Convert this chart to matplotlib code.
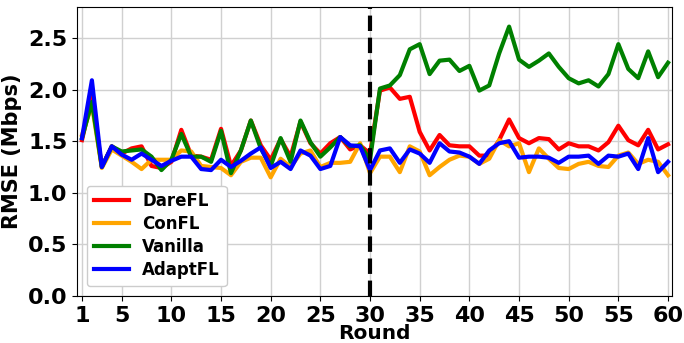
import numpy as np
import matplotlib.pyplot as plt

rounds = np.arange(1, 61)

dare_fl = [1.51, 1.93, 1.25, 1.45, 1.38, 1.43, 1.45, 1.26, 1.24, 1.30,
           1.61, 1.36, 1.35, 1.32, 1.62, 1.26, 1.41, 1.70, 1.46, 1.32,
           1.52, 1.35, 1.69, 1.48, 1.38, 1.48, 1.54, 1.42, 1.46, 1.38,
           1.99, 2.02, 1.91, 1.93, 1.59, 1.41, 1.56, 1.46, 1.45, 1.45,
           1.36, 1.36, 1.51, 1.71, 1.53, 1.48, 1.53, 1.52, 1.42, 1.48,
           1.45, 1.45, 1.41, 1.49, 1.65, 1.51, 1.46, 1.61, 1.42, 1.47]

con_fl = [1.56, 1.85, 1.24, 1.42, 1.36, 1.30, 1.23, 1.32, 1.32, 1.32,
          1.41, 1.40, 1.26, 1.25, 1.24, 1.17, 1.30, 1.34, 1.34, 1.15,
          1.33, 1.25, 1.38, 1.41, 1.25, 1.29, 1.29, 1.30, 1.48, 1.19,
          1.35, 1.35, 1.20, 1.45, 1.40, 1.17, 1.25, 1.32, 1.36, 1.35,
          1.28, 1.33, 1.51, 1.45, 1.48, 1.20, 1.43, 1.33, 1.24, 1.23,
          1.28, 1.30, 1.26, 1.25, 1.36, 1.39, 1.28, 1.32, 1.30, 1.17]

vanilla = [1.53, 1.88, 1.25, 1.45, 1.40, 1.41, 1.42, 1.35, 1.22, 1.32,
           1.57, 1.35, 1.35, 1.30, 1.60, 1.19, 1.41, 1.70, 1.43, 1.26,
           1.53, 1.30, 1.70, 1.49, 1.35, 1.44, 1.54, 1.45, 1.46, 1.32,
           2.01, 2.04, 2.14, 2.39, 2.44, 2.15, 2.28, 2.29, 2.18, 2.23,
           1.99, 2.04, 2.35, 2.61, 2.29, 2.22, 2.28, 2.35, 2.22, 2.11,
           2.06, 2.09, 2.03, 2.15, 2.44, 2.20, 2.11, 2.37, 2.12, 2.26]

adapt_fl = [1.53, 2.09, 1.25, 1.45, 1.37, 1.32, 1.38, 1.32, 1.26, 1.31,
            1.35, 1.35, 1.23, 1.22, 1.32, 1.25, 1.31, 1.38, 1.44, 1.24,
            1.30, 1.23, 1.41, 1.36, 1.23, 1.26, 1.54, 1.46, 1.45, 1.22,
            1.41, 1.43, 1.29, 1.42, 1.38, 1.29, 1.48, 1.40, 1.39, 1.35,
            1.28, 1.41, 1.48, 1.50, 1.34, 1.35, 1.35, 1.34, 1.29, 1.35,
            1.35, 1.36, 1.28, 1.36, 1.35, 1.38, 1.23, 1.53, 1.20, 1.30]

x_ticks = [1, 5, 10, 15, 20, 25, 30, 35, 40, 45, 50, 55, 60]
change_round = 30

fig = plt.figure(figsize=(6.84, 3.43), dpi=100)
ax = fig.add_axes([77 / 684, 1 - 296 / 343, (672 - 77) / 684, (296 - 7) / 343])

ax.plot(rounds, dare_fl, color='red', lw=3, label='DareFL')
ax.plot(rounds, con_fl, color='orange', lw=3, label='ConFL')
ax.plot(rounds, vanilla, color='green', lw=3, label='Vanilla')
ax.plot(rounds, adapt_fl, color='blue', lw=3, label='AdaptFL')
ax.axvline(change_round, color='black', lw=3, ls='--')

ax.set_xlim(0.5, 60.4)
ax.set_ylim(0, 2.8)
ax.set_xticks(x_ticks)
ax.set_yticks([0.0, 0.5, 1.0, 1.5, 2.0, 2.5])
ax.grid(True, color='#d0d0d0', lw=1)
ax.set_axisbelow(True)

for lab in ax.get_xticklabels() + ax.get_yticklabels():
    lab.set_fontsize(16)
    lab.set_fontweight('bold')

ax.set_xlabel('Round', fontsize=14.5, fontweight='bold', labelpad=-1.5)
ax.set_ylabel('RMSE (Mbps)', fontsize=15, fontweight='bold')

ax.legend(loc='lower left', bbox_to_anchor=(0.003, 0.006),
          prop={'size': 12, 'weight': 'bold'}, framealpha=1,
          labelspacing=0.3, handlelength=2.1)

fig.savefig('out.png', dpi=100)
